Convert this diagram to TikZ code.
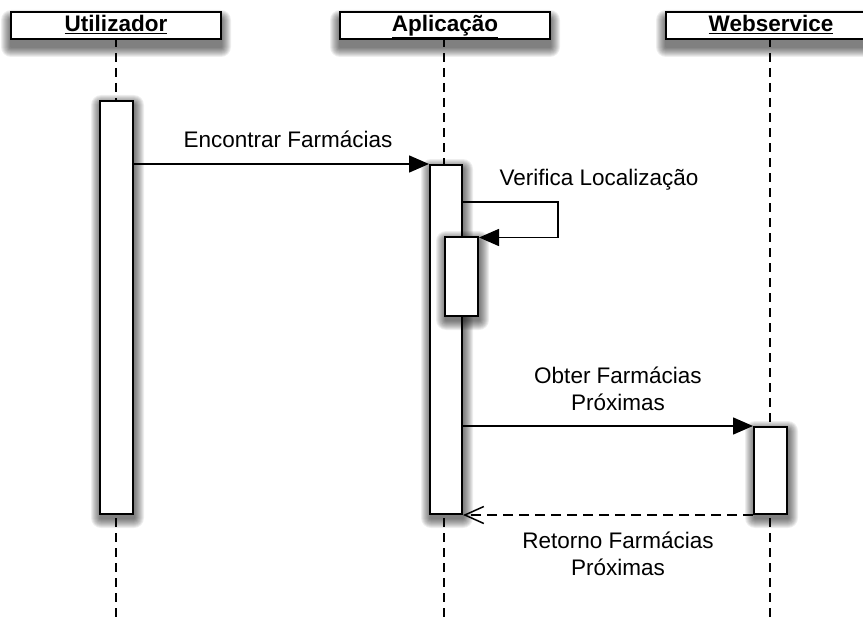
\documentclass[tikz,border=0pt]{standalone}
\usepackage{fontspec}
\setmainfont{Liberation Sans}
\usetikzlibrary{arrows.meta}

% #1 style, #2 name, #3/#4 top-left corner, #5 width, #6 height,
% #7/#8 shadow offset, #9 text
\newcommand\shadowedbox[9]{%
  \foreach \e in {1,...,10}{%
    \fill[black, opacity=0.065, rounded corners=\e pt]
      (#3+#7-\e, #4+#8-\e) rectangle (#3+#5+#7+\e, #4+#6+#8+\e);
  }%
  \node[#1, minimum width=#5pt, minimum height=#6pt] (#2) at (#3,#4) {#9};
}

\begin{document}
\begin{tikzpicture}[x=1pt,y=-1pt,
  font=\fontsize{22.5}{27}\selectfont,
  headbox/.style={draw=black, line width=2pt, fill=white, anchor=north west,
    inner sep=0pt, text height=17pt, text depth=5pt,
    font=\fontsize{22.5}{27}\selectfont\bfseries},
  actbox/.style={draw=black, line width=2pt, fill=white, anchor=north west,
    inner sep=0pt},
  lifeline/.style={draw=black, line width=2pt, dash pattern=on 9pt off 6pt},
  msg/.style={draw=black, line width=1.5pt, -{Triangle[length=20pt,width=17pt]}},
  reply/.style={draw=black, line width=1.5pt, dash pattern=on 10pt off 6pt,
    -{Straight Barb[length=19pt,width=17pt,line width=1.5pt]}},
  lbl/.style={align=center, inner sep=0pt, anchor=base}
]
\useasboundingbox (0,0) rectangle (863,618);
\coordinate (bottom) at (0,618);

% lifelines (drawn first, the boxes sit on top)
\coordinate (xu) at (116,38);
\coordinate (xa) at (444,38);
\coordinate (xw) at (770,38);
\draw[lifeline] (xu) -- (xu |- bottom);
\draw[lifeline] (xa) -- (xa |- bottom);
\draw[lifeline] (xw) -- (xw |- bottom);

% participant headers
\shadowedbox{headbox}{hu}{10}{11}{210}{27}{1}{9}{\underline{Utilizador}}
\shadowedbox{headbox}{ha}{339}{11}{210}{27}{1}{9}{\underline{Aplicação}}
\shadowedbox{headbox}{hw}{665}{11}{210}{27}{1}{9}{\underline{Webservice}}

% activation bars
\shadowedbox{actbox}{au}{99}{100}{33}{413}{2}{5}{}
\shadowedbox{actbox}{aa}{429}{164}{32}{349}{2}{5}{}
\shadowedbox{actbox}{an}{444}{236}{33}{79}{2}{5}{}
\shadowedbox{actbox}{aw}{753}{426}{33}{87}{2}{5}{}

% messages
\draw[msg] (aa.north west -| au.east) -- (aa.north west);
\node[lbl] (l1) at (288,147) {Encontrar Farmácias};

\coordinate (loop) at (558,202);
\draw[msg] (loop -| aa.east) -- (loop) |- ([yshift=-1.5pt]an.north east);
\node[lbl] (l2) at (599,185) {Verifica Localização};

\draw[msg] (aw.north west -| aa.east) -- (aw.north west);
\node[lbl] (l3) at (618,410) {Obter Farmácias\\Próximas};

\draw[reply] (aw.south west) -- (aw.south west -| aa.east);
\node[lbl] (l4) at (618,575) {Retorno Farmácias\\Próximas};
\end{tikzpicture}
\end{document}
